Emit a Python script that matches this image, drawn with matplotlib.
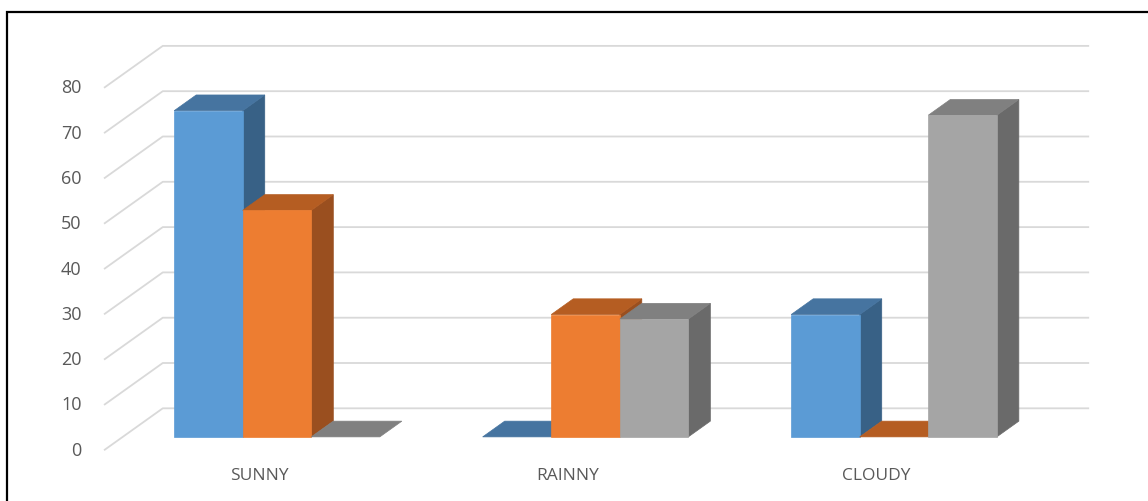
import matplotlib.pyplot as plt
from matplotlib.patches import Polygon, Rectangle

categories = ['SUNNY', 'RAINNY', 'CLOUDY']
series1 = [72, 0, 27]
series2 = [50, 27, 0]
series3 = [0, 26, 71]
yticks = [0, 10, 20, 30, 40, 50, 60, 70, 80]

# front / top / side shades per series
colors = [
    ('#5B9BD5', '#4674A0', '#386186'),
    ('#ED7D31', '#B55D22', '#9A4F1F'),
    ('#A5A5A5', '#808080', '#6A6A6A'),
]

# oblique projection: depth d in [0, 1] shifts right and up
DX = 0.188   # category units per full depth
DV = 9.14    # value units per full depth
bar_w = 1 / 4.5
d0, d1 = 0.31, 0.69


def proj(x, v, d):
    return (x + d * DX, v + d * DV)


fig = plt.figure(figsize=(11.48, 5.02), dpi=100)
ax = fig.add_axes([0, 0, 1, 1])
ax.set_xlim(-0.8396, 2.8817)
ax.set_ylim(-11.32, 99.49)
ax.axis('off')

# gridlines: side wall diagonals and back wall
grid_c = '#D9D9D9'
xl, xr = -0.5, len(categories) - 0.5
for v in yticks:
    a = proj(xl, v, 0)
    b = proj(xl, v, 1)
    c = proj(xr, v, 1)
    ax.plot([a[0], b[0], c[0]], [a[1], b[1], c[1]], color=grid_c, lw=1.3, zorder=1)
    ax.text(xl - 0.075, v, str(v), ha='right', va='center', fontsize=13,
            color='#595959', family='Open Sans')

z = 2
for i, cat in enumerate(categories):
    vals = [series1[i], series2[i], series3[i]]
    for j, h in enumerate(vals):
        x0 = i - 1.5 * bar_w + j * bar_w
        x1 = x0 + bar_w
        front_c, top_c, side_c = colors[j]
        side = [proj(x1, 0, d0), proj(x1, 0, d1), proj(x1, h, d1), proj(x1, h, d0)]
        top = [proj(x0, h, d0), proj(x1, h, d0), proj(x1, h, d1), proj(x0, h, d1)]
        front = [proj(x0, 0, d0), proj(x1, 0, d0), proj(x1, h, d0), proj(x0, h, d0)]
        if h > 0:
            ax.add_patch(Polygon(side, closed=True, fc=side_c, ec=side_c, lw=0.5, zorder=z))
        ax.add_patch(Polygon(top, closed=True, fc=top_c, ec=top_c, lw=0.5, zorder=z + 1))
        if h > 0:
            ax.add_patch(Polygon(front, closed=True, fc=front_c, ec=front_c, lw=0.5, zorder=z + 2))
        z += 3
    ax.text(i, -5.6, cat, ha='center', va='center', fontsize=12.5,
            color='#595959', family='Open Sans')

# black frame of the chart object
fig.patches.append(Rectangle((7 / 1148, -0.1), 1.2, 1.1 - 13 / 502,
                             transform=fig.transFigure, fill=False,
                             ec='black', lw=1.6))

fig.savefig('out.png', dpi=100)
